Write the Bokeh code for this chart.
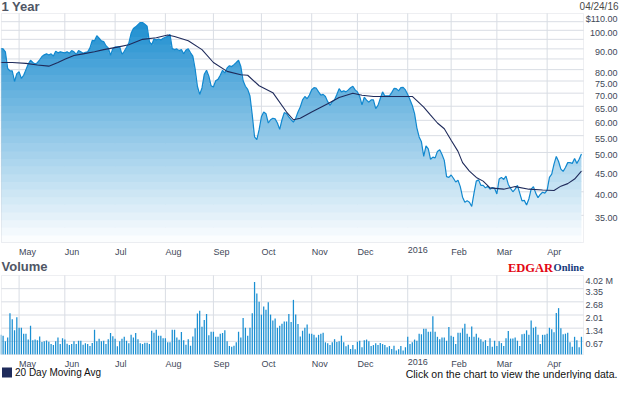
import numpy as np
from bokeh.plotting import figure
from bokeh.models import Range1d, LinearScale, BoxAnnotation
from bokeh.core.properties import value
from bokeh.embed import file_html
from bokeh.resources import INLINE

# ---------------- data (trading-day index 0 = 2015-04-21) ----------------
price = [
    90.1, 90.0, 88.5, 80.5, 79.4, 79.4, 74.8, 78.2, 79.0, 76.1,
    77.5, 80.0, 82.6, 84.4, 83.3, 82.6, 83.2, 84.6, 86.2, 87.0,
    87.5, 86.9, 87.5, 86.4, 88.8, 88.0, 88.5, 88.2, 88.0, 88.5,
    87.8, 89.1, 88.5, 87.2, 89.1, 88.5, 87.8, 88.3, 88.5, 90.5,
    94.4, 94.2, 97.0, 95.6, 94.2, 93.8, 91.6, 90.5, 86.8, 90.1,
    90.9, 91.1, 91.1, 87.2, 88.8, 90.8, 93.0, 98.3, 101.0, 102.0,
    103.3, 104.5, 104.5, 103.5, 102.3, 93.8, 92.1, 95.2, 94.7, 95.2,
    94.7, 95.6, 96.1, 96.6, 97.7, 90.1, 89.6, 90.0, 89.1, 89.6,
    87.5, 89.4, 90.1, 88.0, 86.4, 80.4, 72.8, 69.5, 72.1, 77.9,
    79.7, 77.1, 73.0, 72.5, 75.1, 75.7, 77.5, 79.7, 78.5, 80.8,
    81.8, 81.4, 82.3, 83.3, 84.4, 81.4, 75.1, 72.8, 71.5, 68.9,
    61.8, 54.6, 53.8, 56.9, 61.2, 62.9, 62.3, 59.1, 60.2, 60.7,
    60.5, 59.1, 57.0, 60.2, 62.7, 62.3, 61.2, 60.2, 59.4, 60.7,
    62.9, 64.7, 67.4, 68.7, 67.8, 69.3, 71.4, 72.2, 72.0, 70.5,
    69.2, 69.5, 68.7, 66.7, 65.3, 66.7, 67.4, 69.5, 71.8, 70.5,
    70.9, 70.5, 71.3, 72.2, 72.8, 71.3, 70.5, 68.7, 65.5, 68.4,
    67.3, 66.5, 67.4, 67.4, 64.1, 65.3, 67.9, 70.5, 68.9, 68.9,
    68.9, 70.2, 71.9, 71.8, 70.9, 72.2, 72.3, 71.3, 69.5, 67.4,
    65.3, 62.3, 57.5, 54.6, 53.1, 48.9, 51.9, 51.0, 48.1, 48.7,
    48.5, 50.3, 50.8, 49.4, 47.8, 43.6, 43.4, 44.0, 43.2, 42.3,
    42.7, 41.2, 38.8, 37.7, 38.0, 37.7, 36.8, 39.7, 42.5, 42.8,
    41.5, 41.5, 40.9, 41.3, 40.6, 41.0, 40.8, 39.5, 43.0, 43.4,
    42.9, 43.7, 41.7, 40.8, 40.0, 40.6, 41.5, 39.7, 38.0, 38.1,
    37.1, 38.4, 40.6, 41.2, 39.7, 38.7, 39.4, 39.9, 39.7, 40.4,
    43.4, 44.2, 46.8, 48.9, 47.5, 45.5, 44.9, 45.9, 47.2, 47.2,
    47.0, 48.3, 47.0, 48.1, 49.6,
]

volume_m = [
    1.00, 0.95, 0.67, 0.86, 2.10, 1.80, 1.23, 1.90, 1.36, 1.36,
    1.06, 1.06, 0.76, 1.46, 0.73, 0.76, 0.73, 0.91, 0.63, 0.68,
    0.71, 0.65, 0.53, 0.48, 0.67, 0.86, 0.53, 0.83, 0.76, 0.55,
    0.48, 0.53, 0.67, 0.53, 0.70, 0.70, 0.50, 0.57, 0.53, 0.43,
    0.58, 1.26, 0.67, 0.80, 0.67, 0.70, 0.53, 0.78, 1.10, 0.93,
    0.80, 0.42, 0.67, 0.80, 0.90, 0.70, 0.57, 1.00, 0.86, 1.10,
    0.78, 0.57, 0.53, 0.60, 0.60, 0.53, 1.21, 1.11, 1.26, 0.96,
    0.95, 0.83, 0.83, 0.62, 0.62, 1.26, 1.26, 0.86, 0.75, 1.15,
    0.73, 0.50, 0.78, 0.45, 0.91, 1.33, 2.08, 2.23, 1.41, 1.75,
    2.06, 0.98, 1.16, 1.16, 0.90, 0.90, 1.06, 1.10, 1.23, 0.67,
    0.43, 0.40, 0.45, 0.62, 1.16, 0.86, 1.86, 1.36, 0.96, 1.36,
    2.10, 3.69, 3.11, 2.69, 2.03, 2.44, 2.28, 2.66, 2.03, 1.73,
    1.83, 1.36, 1.46, 1.56, 1.68, 1.68, 2.06, 1.65, 2.78, 2.03,
    1.55, 0.91, 1.21, 1.36, 1.53, 1.06, 1.06, 1.00, 0.86, 1.00,
    1.06, 1.11, 0.62, 0.57, 0.48, 0.62, 0.78, 0.63, 0.67, 0.96,
    0.62, 0.42, 0.50, 0.28, 0.48, 0.27, 0.65, 0.70, 0.37, 0.73,
    0.76, 0.67, 0.43, 0.48, 0.57, 0.48, 0.58, 0.53, 0.48, 0.37,
    0.43, 0.28, 0.45, 0.20, 0.27, 0.43, 0.20, 0.37, 0.90, 0.53,
    0.62, 0.76, 0.70, 1.06, 1.03, 1.31, 1.31, 1.16, 1.16, 1.95,
    1.16, 0.90, 0.78, 0.86, 0.86, 0.70, 1.40, 0.95, 0.90, 0.53,
    1.11, 1.11, 1.33, 1.56, 1.06, 0.90, 1.43, 0.90, 1.06, 0.86,
    0.78, 0.65, 0.73, 0.43, 0.83, 0.40, 0.70, 0.43, 0.67, 0.58,
    0.43, 0.83, 1.20, 0.81, 0.81, 0.86, 0.70, 0.43, 1.03, 1.06,
    1.23, 1.00, 1.73, 1.36, 1.41, 1.00, 0.53, 1.00, 1.00, 1.06,
    1.36, 1.28, 1.13, 2.11, 2.36, 1.33, 1.03, 1.06, 1.11, 0.62,
    0.40, 0.90, 0.73, 0.37, 0.90,
]

ma_day = [0, 5, 11, 16, 21, 25, 28, 32, 36, 41, 45, 51, 56, 62, 68, 73, 76, 82,
          88, 93, 99, 105, 108, 113, 119, 125, 128, 131, 136, 143, 148, 154, 158,
          163, 174, 180, 182, 185, 188, 191, 194, 197, 200, 202, 205, 208, 211,
          214, 220, 225, 231, 237, 242, 245, 248, 251, 254]
ma_value = [83.3, 83.3, 82.9, 82.1, 81.6, 83.3, 84.8, 86.7, 87.5, 88.5, 89.6, 90.9,
            92.1, 95.0, 95.9, 97.4, 96.5, 94.2, 89.6, 83.3, 79.2, 77.7, 77.5, 73.0,
            70.2, 62.9, 60.2, 60.7, 62.9, 65.9, 68.3, 70.0, 69.2, 68.7, 68.7, 68.7,
            67.1, 64.7, 61.8, 59.1, 57.2, 53.6, 50.3, 47.2, 45.0, 43.4, 42.5, 40.9,
            40.6, 41.2, 40.6, 40.4, 40.3, 41.3, 41.9, 43.0, 45.0]

month_day = [8, 28, 50, 72, 93, 114, 136, 156, 178, 197, 217, 239]
month_labels = ["May", "Jun", "Jul", "Aug", "Sep", "Oct", "Nov", "Dec", "2016",
                "Feb", "Mar", "Apr"]

price_ticks = [110, 100, 90, 80, 75, 70, 65, 60, 55, 50, 45, 40, 35]
price_tick_labels = ["$110.00", "100.00", "90.00", "80.00", "75.00", "70.00",
                     "65.00", "60.00", "55.00", "50.00", "45.00", "40.00", "35.00"]
price_grid = [35, 40, 45, 50, 55, 60, 65, 70, 75, 80, 85, 90, 95, 100, 105]

vol_ticks = [4.02, 3.35, 2.68, 2.01, 1.34, 0.67]
vol_tick_labels = ["4.02 M", "3.35", "2.68", "2.01", "1.34", "0.67"]
vol_grid = [0.67, 1.34, 2.01, 2.68, 3.35]

legend_label = "20 Day Moving Avg"

# ---------------- geometry of the canvas (pixels) ----------------
W, H = 619, 379
FL, FR = 1, 583          # left / right edge of both chart boxes
PT, PB = 13, 242         # price box top / bottom
VT, VB = 275, 354        # volume box top / bottom
X0, X1 = 0.3, 254.9      # trading-day span of the boxes
P_LO, P_HI = 30.0, 110.0
V_HI = 4.02

kx = (FR - FL) / (X1 - X0)


def day_at(cx):
    return X0 + (cx - FL) / kx


r = np.log(P_HI / P_LO) / (PB - PT)
kv = V_HI / (VB - VT)


def vol_at(cy):
    return (VB - cy) * kv


x_range = Range1d(float(day_at(0)), float(day_at(W)))
y_range = Range1d(float(P_LO * np.exp(-(H - PB) * r)), float(P_HI * np.exp(PT * r)))
vol_range = Range1d(float(vol_at(H)), float(vol_at(0)))

# ---------------- styling ----------------
FONT = "Liberation Sans"
GRID = "#d9dde4"
OUTLINE = "#c6cbd3"
TICK_COLOR = "#414858"
TITLE_COLOR = "#4f5665"
LINE_BLUE = "#1188cf"
MA_COLOR = "#1f2b5b"
BAR_BLUE = "#1a8fd2"

p = figure(width=W, height=H, x_range=x_range, y_range=y_range, y_axis_type="log",
           x_axis_location=None, y_axis_location=None, toolbar_location=None,
           output_backend="svg", min_border=0)
p.extra_y_ranges = {"vol": vol_range}
p.extra_y_scales = {"vol": LinearScale()}
p.grid.visible = False
p.outline_line_color = None
p.background_fill_color = "white"
p.border_fill_color = "white"

n_pg = len(price_grid)
n_vg = len(vol_grid)
n_m = len(month_day)

# grid lines
p.segment(x0=[X0] * n_pg, y0=price_grid, x1=[X1] * n_pg, y1=price_grid,
          line_color=GRID, line_width=1)
p.segment(x0=month_day, y0=[P_LO] * n_m, x1=month_day, y1=[P_HI] * n_m,
          line_color=GRID, line_width=1)
p.segment(x0=[X0] * n_vg, y0=vol_grid, x1=[X1] * n_vg, y1=vol_grid,
          line_color=GRID, line_width=1, y_range_name="vol")
p.segment(x0=month_day, y0=[0] * n_m, x1=month_day, y1=[V_HI] * n_m,
          line_color=GRID, line_width=1, y_range_name="vol")

# price area with banded gradient
days = np.arange(len(price))
pr = np.array(price, dtype=float)
nb = 30
edges = P_LO * (P_HI / P_LO) ** (np.arange(nb + 1) / nb)
top_rgb = np.array([22, 138, 206])
for j in range(nb):
    t = (j + 0.5) / nb
    c = 255 + (top_rgb - 255) * t
    col = "#%02x%02x%02x" % tuple(int(round(v)) for v in c)
    p.varea(x=days, y1=np.minimum(pr, edges[j] * 0.997),
            y2=np.minimum(pr, edges[j + 1]), fill_color=col, fill_alpha=1.0)

p.line(days, pr, line_color=LINE_BLUE, line_width=1.2)
p.line(ma_day, ma_value, line_color=MA_COLOR, line_width=1.1)

# volume bars
p.vbar(x=np.arange(len(volume_m)), top=volume_m, bottom=0, width=0.55,
       fill_color=BAR_BLUE, line_color=None, y_range_name="vol")

# chart boxes
p.add_layout(BoxAnnotation(left=X0, right=X1, bottom=P_LO, top=P_HI,
                           fill_color=None, line_color=OUTLINE, line_width=1))
p.add_layout(BoxAnnotation(left=X0, right=X1, bottom=0, top=V_HI, fill_color=None,
                           line_color=OUTLINE, line_width=1, y_range_name="vol"))

# tick labels
tick_kw = dict(text_font=value(FONT), text_font_size=value("9px"), text_color=TICK_COLOR)
p.text(x=[day_at(617)] * len(price_ticks), y=price_ticks, text=price_tick_labels,
       text_align="right", text_baseline="top", **tick_kw)
p.text(x=[day_at(585)] * len(vol_ticks), y=vol_ticks, text=vol_tick_labels,
       text_align="left", text_baseline="top", y_range_name="vol", **tick_kw)
p.text(x=month_day, y=[P_LO] * n_m, text=month_labels, y_offset=4.5,
       text_align="left", text_baseline="top", **tick_kw)
p.text(x=month_day, y=[0] * n_m, text=month_labels, y_offset=4.5,
       text_align="left", text_baseline="top", y_range_name="vol", **tick_kw)

# titles and notes
p.text(x=[day_at(1)], y=[P_HI], text=["1 Year"], y_offset=-7,
       text_font=value(FONT), text_font_style="bold", text_font_size=value("13px"),
       text_color=TITLE_COLOR, text_baseline="middle")
p.text(x=[day_at(618)], y=[P_HI], text=["04/24/16"], y_offset=-7,
       text_font=value(FONT), text_font_size=value("10px"), text_color="#4a4a4a",
       text_align="right", text_baseline="middle")
p.text(x=[day_at(1)], y=[V_HI], text=["Volume"], y_offset=-9.5,
       text_font=value(FONT), text_font_style="bold", text_font_size=value("13px"),
       text_color=TITLE_COLOR, text_baseline="middle", y_range_name="vol")
p.text(x=[day_at(507.5)], y=[V_HI], text=["EDGAR"], y_offset=-7.7,
       text_font=value("Liberation Serif"), text_font_style="bold",
       text_font_size=value("12.5px"), text_color="#e30613",
       text_baseline="alphabetic", y_range_name="vol")
p.text(x=[day_at(553)], y=[V_HI], text=["Online"], y_offset=-7.7,
       text_font=value("Liberation Serif"), text_font_style="bold",
       text_font_size=value("10.5px"), text_color="#173c7c",
       text_baseline="alphabetic", y_range_name="vol")
p.text(x=[day_at(617)], y=[0], text=["Click on the chart to view the underlying data."],
       y_offset=19.5, text_font=value(FONT), text_font_size=value("10.5px"),
       text_color="#111111", text_align="right", text_baseline="middle",
       y_range_name="vol")

# legend (swatch + label) below the volume box
p.scatter(x=[day_at(6.5)], y=[vol_at(372)], marker="square", size=10,
          fill_color=MA_COLOR, line_color=None, y_range_name="vol")
p.text(x=[day_at(14.5)], y=[vol_at(372)], text=[legend_label],
       text_font=value(FONT), text_font_size=value("10px"), text_color="#111111",
       text_align="left", text_baseline="middle", y_range_name="vol")

open("out.html", "w").write(file_html(p, INLINE))
